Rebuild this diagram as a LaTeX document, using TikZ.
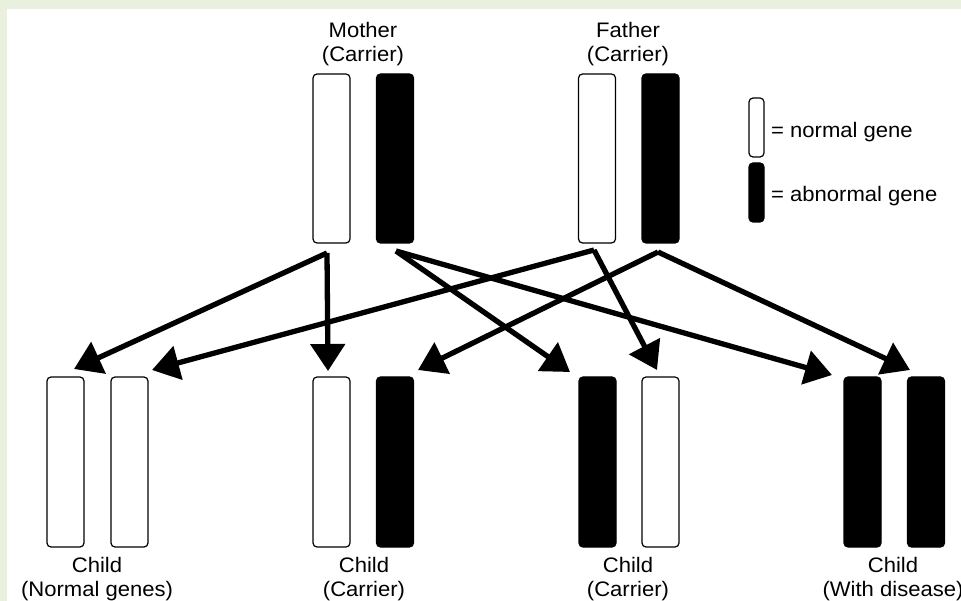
\documentclass[tikz,border=0pt]{standalone}
\usepackage{fontspec}
\setmainfont{Liberation Sans}[FakeStretch=1.05]
\usetikzlibrary{arrows.meta}
\definecolor{bggreen}{HTML}{E9F1DE}
\tikzset{
  bar/.style={draw=black, line width=1.2pt, rounded corners=4pt, minimum width=37pt, inner sep=0pt, outer sep=0pt},
  wbar/.style={bar, fill=white},
  bbar/.style={bar, fill=black},
  pbar/.style={minimum height=169pt},
  cbar/.style={minimum height=170pt},
  lbar/.style={bar, minimum width=15pt, minimum height=59pt},
  lab/.style={anchor=base, inner sep=0pt, font=\fontsize{21}{24}\selectfont},
  leg/.style={anchor=west, inner sep=0pt, font=\fontsize{21}{24}\selectfont},
  arr/.style={line width=5.3pt, -{Triangle[length=27pt,width=34pt]}}
}
\begin{document}
\begin{tikzpicture}[x=1pt,y=-1pt]
\useasboundingbox (0,0) rectangle (961,601);
\fill[bggreen] (0,0) rectangle (961,601);
\fill[white] (7,9) rectangle (961,601);
% parents
\node[wbar,pbar] (mw) at (331.5,158.5) {};
\node[bbar,pbar] (mb) at (395,158.5) {};
\node[wbar,pbar] (fw) at (597,158.5) {};
\node[bbar,pbar] (fb) at (660.5,158.5) {};
\node[lab] (mlab1) at (363,38) {Mother};
\node[lab] (mlab2) at (363,62) {(Carrier)};
\node[lab] (flab1) at (628,38) {Father};
\node[lab] (flab2) at (628,62) {(Carrier)};
% legend
\node[lbar,fill=white] (lw) at (756.5,127.5) {};
\node[lbar,fill=black] (lb) at (756.5,192.5) {};
\node[leg] (lwt) at (771,132) {= normal gene};
\node[leg] (lbt) at (771,196) {= abnormal gene};
% children
\node[wbar,cbar] (c1a) at (65.5,462) {};
\node[wbar,cbar] (c1b) at (129.5,462) {};
\node[wbar,cbar] (c2a) at (331.5,462) {};
\node[bbar,cbar] (c2b) at (395,462) {};
\node[bbar,cbar] (c3a) at (597.5,462) {};
\node[wbar,cbar] (c3b) at (660.5,462) {};
\node[bbar,cbar] (c4a) at (862.5,462) {};
\node[bbar,cbar] (c4b) at (926,462) {};
\node[lab] (c1l1) at (97,572) {Child};
\node[lab] (c1l2) at (97,596) {(Normal genes)};
\node[lab] (c2l1) at (364,572) {Child};
\node[lab] (c2l2) at (364,596) {(Carrier)};
\node[lab] (c3l1) at (628,572) {Child};
\node[lab] (c3l2) at (628,596) {(Carrier)};
\node[lab] (c4l1) at (893,572) {Child};
\node[lab] (c4l2) at (893,596) {(With disease)};
% arrow origins and tips
\coordinate (smw) at (327,253);
\coordinate (smb) at (396,251);
\coordinate (sfw) at (594,250);
\coordinate (sfb) at (658,252);
\coordinate (tc1a) at (74,369);
\coordinate (tc1b) at (152,370);
\coordinate (tc2a) at (328,371);
\coordinate (tc2b) at (418,370);
\coordinate (tc3a) at (570,372);
\coordinate (tc3b) at (657,370);
\coordinate (tc4a) at (832,375);
\coordinate (tc4b) at (910,370);
\draw[arr] (smw) -- (tc1a);
\draw[arr] (smw) -- (tc2a);
\draw[arr] (smb) -- (tc3a);
\draw[arr] (smb) -- (tc4a);
\draw[arr] (sfw) -- (tc1b);
\draw[arr] (sfw) -- (tc3b);
\draw[arr] (sfb) -- (tc2b);
\draw[arr] (sfb) -- (tc4b);
\end{tikzpicture}
\end{document}
